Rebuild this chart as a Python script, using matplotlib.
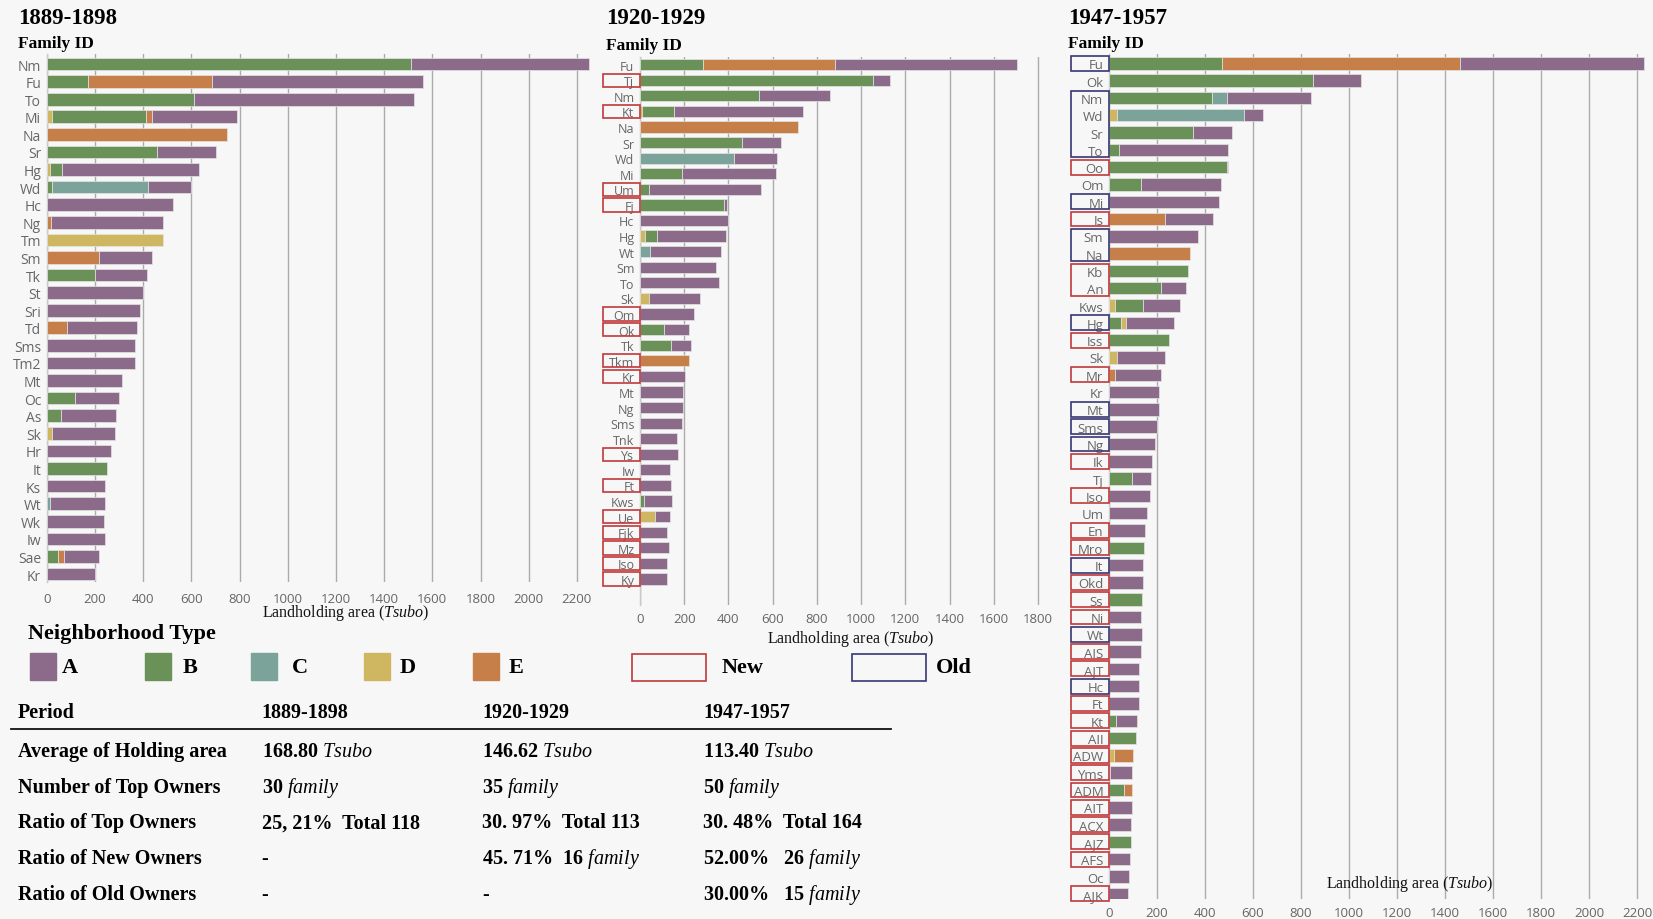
import matplotlib
matplotlib.use("Agg")
import matplotlib.pyplot as plt
from matplotlib.patches import Rectangle
from matplotlib.transforms import blended_transform_factory

W, H, DPI = 1653, 920, 100
BG = "#f7f7f7"
SERIF = "Liberation Serif"
SANS = "Open Sans"

plt.rcParams["mathtext.fontset"] = "custom"
plt.rcParams["mathtext.rm"] = SERIF
plt.rcParams["mathtext.it"] = SERIF + ":italic"
plt.rcParams["mathtext.bf"] = SERIF + ":bold"

TYPE_COLORS = {"A": "#8b6b89", "B": "#6a9158", "C": "#7ba39a",
               "D": "#cfb660", "E": "#c67f48"}
NEW_COLOR = "#c0393b"
OLD_COLOR = "#363872"

# ---------------- data ----------------
ids_1889 = ["Nm", "Fu", "To", "Mi", "Na", "Sr", "Hg", "Wd", "Hc", "Ng", "Tm", "Sm",
            "Tk", "St", "Sri", "Td", "Sms", "Tm2", "Mt", "Oc", "As", "Sk", "Hr",
            "It", "Ks", "Wt", "Wk", "Iw", "Sae", "Kr"]
segments_1889 = [
    [("B", 1512), ("A", 736)],
    [("B", 171), ("E", 514), ("A", 876)],
    [("B", 612), ("A", 910)],
    [("D", 21), ("B", 391), ("E", 24), ("A", 353)],
    [("E", 750)],
    [("B", 458), ("A", 243)],
    [("D", 13), ("B", 52), ("A", 567)],
    [("B", 24), ("C", 398), ("A", 177)],
    [("A", 525)],
    [("E", 17), ("A", 466)],
    [("D", 483)],
    [("E", 219), ("A", 217)],
    [("B", 200), ("A", 218)],
    [("A", 399)],
    [("A", 387)],
    [("E", 84), ("A", 290)],
    [("A", 368)],
    [("A", 368)],
    [("A", 312)],
    [("B", 117), ("A", 183)],
    [("B", 59), ("A", 228)],
    [("D", 22), ("A", 260)],
    [("A", 265)],
    [("B", 250)],
    [("A", 243)],
    [("C", 13), ("A", 230)],
    [("A", 239)],
    [("A", 241)],
    [("B", 48), ("E", 25), ("A", 144)],
    [("A", 201)],
]

ids_1920 = ["Fu", "Tj", "Nm", "Kt", "Na", "Sr", "Wd", "Mi", "Um", "Fj", "Hc", "Hg",
            "Wt", "Sm", "To", "Sk", "Om", "Ok", "Tk", "Tkm", "Kr", "Mt", "Ng",
            "Sms", "Tnk", "Ys", "Iw", "Ft", "Kws", "Ue", "Fjk", "Mz", "Iso", "Ky"]
segments_1920 = [
    [("B", 287), ("E", 593), ("A", 826)],
    [("B", 1052), ("A", 77)],
    [("B", 537), ("A", 323)],
    [("D", 11), ("B", 141), ("A", 584)],
    [("E", 715)],
    [("B", 463), ("A", 174)],
    [("C", 427), ("A", 193)],
    [("B", 192), ("A", 424)],
    [("B", 42), ("A", 504)],
    [("B", 382), ("A", 10)],
    [("A", 400)],
    [("D", 23), ("B", 52), ("A", 313)],
    [("C", 45), ("A", 322)],
    [("A", 345)],
    [("A", 359)],
    [("D", 39), ("A", 233)],
    [("A", 246)],
    [("B", 107), ("A", 115)],
    [("B", 139), ("A", 92)],
    [("E", 220)],
    [("A", 204)],
    [("A", 195)],
    [("A", 195)],
    [("A", 190)],
    [("A", 166)],
    [("A", 170)],
    [("A", 134)],
    [("A", 142)],
    [("B", 20), ("A", 125)],
    [("D", 66), ("A", 68)],
    [("A", 124)],
    [("A", 130)],
    [("A", 121)],
    [("A", 121)],
]
new_groups_1920 = [["Tj"], ["Kt"], ["Um"], ["Fj"], ["Om"], ["Ok"], ["Tkm"], ["Kr"],
                   ["Ys"], ["Ft"], ["Ue"], ["Fjk"], ["Mz"], ["Iso"], ["Ky"]]

ids_1947 = ["Fu", "Ok", "Nm", "Wd", "Sr", "To", "Oo", "Om", "Mi", "Is", "Sm", "Na",
            "Kb", "An", "Kws", "Hg", "Iss", "Sk", "Mr", "Kr", "Mt", "Sms", "Ng", "Ik",
            "Tj", "Iso", "Um", "En", "Mro", "It", "Okd", "Ss", "Ni", "Wt", "AIS",
            "AJT", "Hc", "Ft", "Kt", "AII", "ADW", "Yms", "ADM", "AIT", "ACX", "AJZ",
            "AFS", "Oc", "AJK"]
segments_1947 = [
    [("B", 469), ("E", 995), ("A", 767)],
    [("B", 849), ("A", 202)],
    [("B", 431), ("C", 60), ("A", 350)],
    [("D", 35), ("C", 528), ("A", 79)],
    [("B", 350), ("A", 162)],
    [("B", 42), ("A", 455)],
    [("B", 491), ("A", 3)],
    [("B", 132), ("A", 336)],
    [("A", 457)],
    [("E", 232), ("A", 201)],
    [("A", 369)],
    [("E", 336)],
    [("B", 331)],
    [("B", 215), ("A", 105)],
    [("D", 27), ("B", 114), ("A", 156)],
    [("B", 52), ("D", 19), ("A", 199)],
    [("B", 250)],
    [("D", 35), ("A", 200)],
    [("E", 24), ("A", 194)],
    [("A", 209)],
    [("A", 209)],
    [("A", 201)],
    [("A", 191)],
    [("A", 180)],
    [("B", 94), ("A", 80)],
    [("A", 171)],
    [("A", 160)],
    [("A", 151)],
    [("B", 144)],
    [("A", 140)],
    [("A", 140)],
    [("B", 138)],
    [("A", 135)],
    [("A", 137)],
    [("A", 132)],
    [("A", 127)],
    [("A", 127)],
    [("A", 124)],
    [("B", 28), ("A", 90)],
    [("B", 113)],
    [("D", 20), ("E", 82)],
    [("D", 4), ("A", 93)],
    [("B", 64), ("E", 33)],
    [("A", 94)],
    [("A", 91)],
    [("B", 91)],
    [("A", 89)],
    [("A", 85)],
    [("A", 80)],
]
old_groups_1947 = [["Fu"], ["Nm", "Wd", "Sr", "To"], ["Mi"], ["Sm", "Na"], ["Hg"],
                   ["Mt"], ["Sms"], ["Ng"], ["It"], ["Wt"], ["Hc"]]
new_groups_1947 = [["Oo"], ["Is"], ["Kb", "An"], ["Iss"], ["Mr"], ["Ik"], ["Iso"],
                   ["En"], ["Mro"], ["Okd"], ["Ss"], ["Ni"], ["AIS"], ["AJT"],
                   ["Ft"], ["Kt"], ["AII"], ["ADW"], ["Yms"], ["ADM"], ["AIT"],
                   ["ACX"], ["AJZ"], ["AFS"], ["AJK"]]

periods = ["1889-1898", "1920-1929", "1947-1957"]
table_rows = ["Average of Holding area", "Number of Top Owners", "Ratio of Top Owners",
              "Ratio of New Owners", "Ratio of Old Owners"]
table_cells = [
    ["168.80 $\\mathit{Tsubo}$", "146.62 $\\mathit{Tsubo}$", "113.40 $\\mathit{Tsubo}$"],
    ["30 $\\mathit{family}$", "35 $\\mathit{family}$", "50 $\\mathit{family}$"],
    ["25, 21%  Total 118", "30. 97%  Total 113", "30. 48%  Total 164"],
    ["-", "45. 71%  16 $\\mathit{family}$", "52.00%   26 $\\mathit{family}$"],
    ["-", "-", "30.00%   15 $\\mathit{family}$"],
]

# ---------------- figure ----------------
fig = plt.figure(figsize=(W / DPI, H / DPI), dpi=DPI, facecolor=BG)


def fx(x):
    return x / W


def fy(y):
    return 1 - y / H


def draw_panel(box, ids, segments, xmax, pad_top, pad_bottom, ticks,
               label_size, tick_pad):
    left, top, right, bottom = box
    ax = fig.add_axes([fx(left), fy(bottom), (right - left) / W, (bottom - top) / H])
    ax.set_facecolor(BG)
    for i, segs in enumerate(segments):
        start = 0
        for kind, val in segs:
            ax.barh(i, val, left=start, height=0.72, color=TYPE_COLORS[kind],
                    edgecolor="#e4e4e4", linewidth=0.5, zorder=3)
            start += val
    ax.set_xlim(0, xmax)
    ax.set_ylim(len(ids) - 1 + pad_bottom, -pad_top)
    ax.set_xticks(ticks)
    ax.set_yticks(range(len(ids)), ids)
    ax.grid(axis="x", color="#ababab", linewidth=1.0, zorder=0)
    ax.set_axisbelow(True)
    for side in ("top", "right", "bottom"):
        ax.spines[side].set_visible(False)
    ax.spines["left"].set_color("#c9c9c9")
    ax.spines["left"].set_linewidth(1.0)
    ax.tick_params(axis="both", length=0, colors="#666666")
    ax.tick_params(axis="y", pad=4, labelsize=label_size)
    ax.tick_params(axis="x", pad=tick_pad, labelsize=9.5)
    for lab in ax.get_xticklabels() + ax.get_yticklabels():
        lab.set_fontfamily(SANS)
    return ax


def draw_boxes(ax, ids, groups, color, x_left_px, x_right_px):
    trans = blended_transform_factory(fig.transFigure, ax.transData)
    gap = 0.07
    for grp in groups:
        i0 = ids.index(grp[0])
        i1 = ids.index(grp[-1])
        rect = Rectangle((fx(x_left_px), i0 - 0.5 + gap),
                         (x_right_px - x_left_px) / W, (i1 - i0 + 1) - 2 * gap,
                         transform=trans, fill=False, edgecolor=color,
                         linewidth=1.2, clip_on=False, zorder=5)
        fig.add_artist(rect)


ax1 = draw_panel((46.7, 55, 592.6, 583.3), ids_1889, segments_1889, 2265,
                 0.57, 0.47, range(0, 2201, 200), 10, 7)
ax2 = draw_panel((640, 58, 1044.6, 606), ids_1920, segments_1920, 1830,
                 0.49, 1.67, range(0, 1801, 200), 9, 5)
ax3 = draw_panel((1109, 55, 1647.8, 900), ids_1947, segments_1947, 2245,
                 0.54, 0.3, range(0, 2201, 200), 9.5, 5)

draw_boxes(ax2, ids_1920, new_groups_1920, NEW_COLOR, 603.3, 640)
draw_boxes(ax3, ids_1947, new_groups_1947, NEW_COLOR, 1071.3, 1109)
draw_boxes(ax3, ids_1947, old_groups_1947, OLD_COLOR, 1071.3, 1109)

# panel headings
for (x, y_title, y_fid), period in zip([(18, 18, 44), (606, 18, 46), (1068, 18, 44)], periods):
    fig.text(fx(x), fy(y_title), period, family=SERIF, weight="bold", size=16.5,
             ha="left", va="center")
    fig.text(fx(x), fy(y_fid), "Family ID", family=SERIF, weight="bold", size=12.5,
             ha="left", va="center")

xlabel = "Landholding area ($\\mathit{Tsubo}$)"
for x, y in [(346, 613), (851, 639), (1410, 884)]:
    fig.text(fx(x), fy(y), xlabel, family=SERIF, size=11.5, ha="center",
             va="center", color="#111111")

# legend
fig.text(fx(28.5), fy(634), "Neighborhood Type", family=SERIF, weight="bold",
         size=16, ha="left", va="center")
legend_items = [("A", 29.9, 62), ("B", 145.2, 182.5), ("C", 251.4, 291.6),
                ("D", 364, 400), ("E", 473, 509)]
for kind, px, tx in legend_items:
    fig.add_artist(Rectangle((fx(px), fy(681)), 26 / W, 26.7 / H,
                             transform=fig.transFigure, color=TYPE_COLORS[kind]))
    fig.text(fx(tx), fy(668), kind, family=SERIF, weight="bold", size=16,
             ha="left", va="center")
for label, color, bx, tx in [("New", NEW_COLOR, 631.5, 722), ("Old", OLD_COLOR, 852, 936)]:
    fig.add_artist(Rectangle((fx(bx), fy(682)), 74 / W, 27 / H,
                             transform=fig.transFigure, fill=False,
                             edgecolor=color, linewidth=1.2))
    fig.text(fx(tx), fy(668), label, family=SERIF, weight="bold", size=16,
             ha="left", va="center")

# summary table
col_x = [18, 261.5, 482, 703]
header_y = 712.5
row_y = [751.7, 788, 823.3, 859.3, 895]
fig.text(fx(col_x[0]), fy(header_y), "Period", family=SERIF, weight="bold",
         size=14.5, ha="left", va="center")
for x, p in zip(col_x[1:], periods):
    fig.text(fx(x), fy(header_y), p, family=SERIF, weight="bold", size=14.5,
             ha="left", va="center")
fig.add_artist(plt.Line2D([fx(10.5), fx(891)], [fy(730), fy(730)],
                          transform=fig.transFigure, color="#111111", linewidth=1.3))
for y, name, cells in zip(row_y, table_rows, table_cells):
    fig.text(fx(col_x[0]), fy(y), name, family=SERIF, weight="bold", size=14.5,
             ha="left", va="center")
    for x, cell in zip(col_x[1:], cells):
        fig.text(fx(x), fy(y), cell, family=SERIF, weight="bold", size=14.5,
                 ha="left", va="center")

fig.savefig("out.png", dpi=DPI, facecolor=BG)
